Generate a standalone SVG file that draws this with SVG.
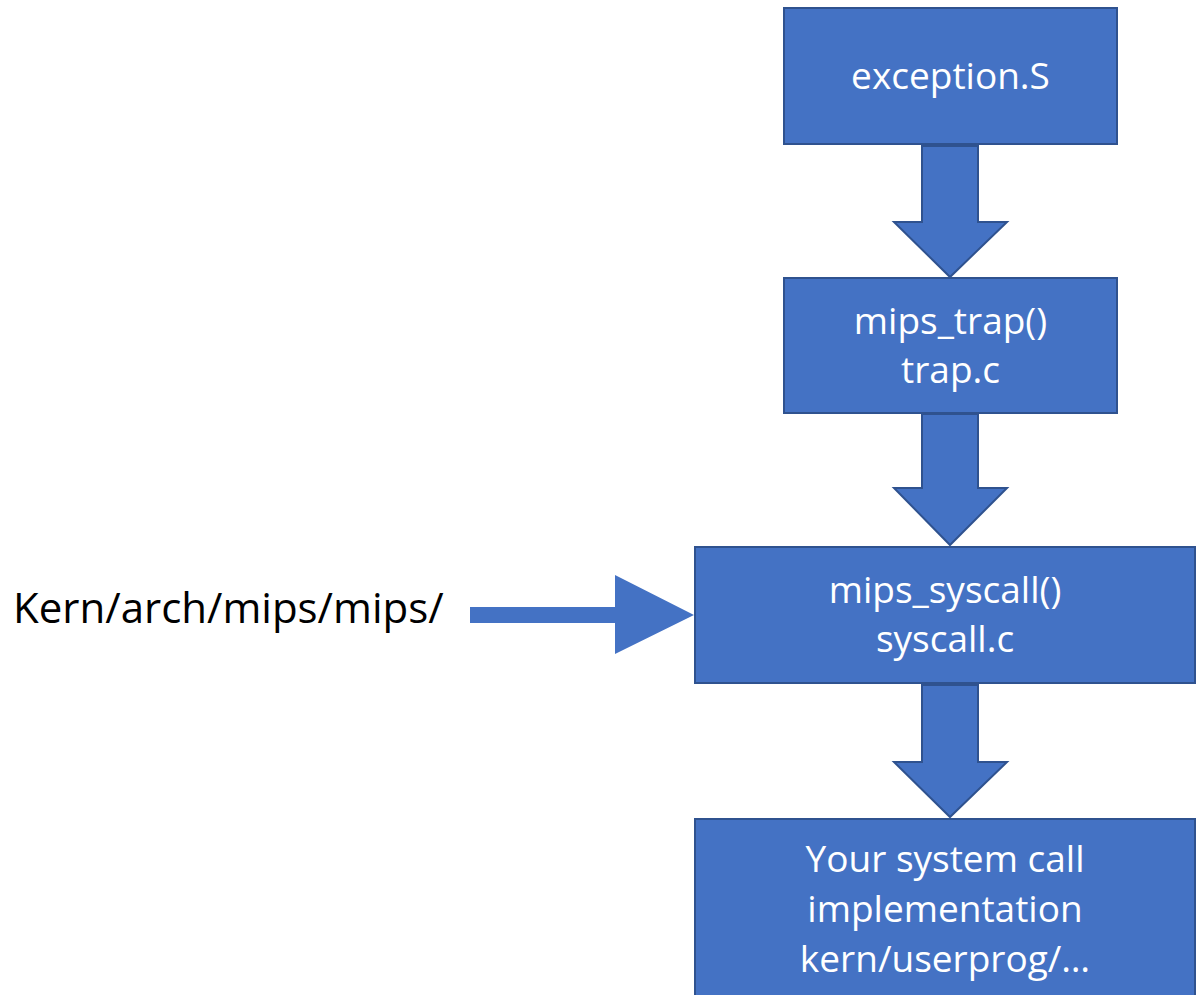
<svg xmlns="http://www.w3.org/2000/svg" width="1196" height="995" viewBox="0 0 1196 995">
<style>
.box{fill:#4472C4;stroke:#2F528F;stroke-width:2}
.arr{fill:#4472C4;stroke:#2F528F;stroke-width:2;stroke-linejoin:miter}
.wt{font-family:"Open Sans","Liberation Sans",sans-serif;font-size:37px;fill:#FFFFFF;text-anchor:middle}
.bt{font-family:"Open Sans","Liberation Sans",sans-serif;font-size:42px;fill:#000000}
</style>
<rect width="1196" height="995" fill="#FFFFFF"/>
<g id="connectors">
<polygon class="arr" points="922,146 978,146 978,222 1007,222 950,277 894,222 922,222"/>
<polygon class="arr" points="922,414 978,414 978,488 1007,488 950,545 894,488 922,488"/>
<polygon class="arr" points="922,685 978,685 978,762 1007,762 950,817 894,762 922,762"/>
<polygon fill="#4472C4" points="470,607 615,607 615,575 694,615 615,654 615,623 470,623"/>
</g>
<g id="exception">
<rect class="box" x="784" y="8" width="333" height="136"/>
<text class="wt" x="950.5" y="89">exception.S</text>
</g>
<g id="mips_trap">
<rect class="box" x="784" y="278" width="333" height="135"/>
<text class="wt" x="950.5" y="334">mips_trap()</text>
<text class="wt" x="950.5" y="383">trap.c</text>
</g>
<g id="mips_syscall">
<rect class="box" x="695" y="547" width="500" height="136"/>
<text class="wt" x="945" y="603">mips_syscall()</text>
<text class="wt" x="945" y="652">syscall.c</text>
</g>
<g id="implementation">
<rect class="box" x="695" y="819" width="500" height="200"/>
<text class="wt" x="945" y="872">Your system call</text>
<text class="wt" x="945" y="922">implementation</text>
<text class="wt" x="945" y="972">kern/userprog/…</text>
</g>
<g id="label">
<text class="bt" x="13" y="623">Kern/arch/mips/mips/</text>
</g>
</svg>
